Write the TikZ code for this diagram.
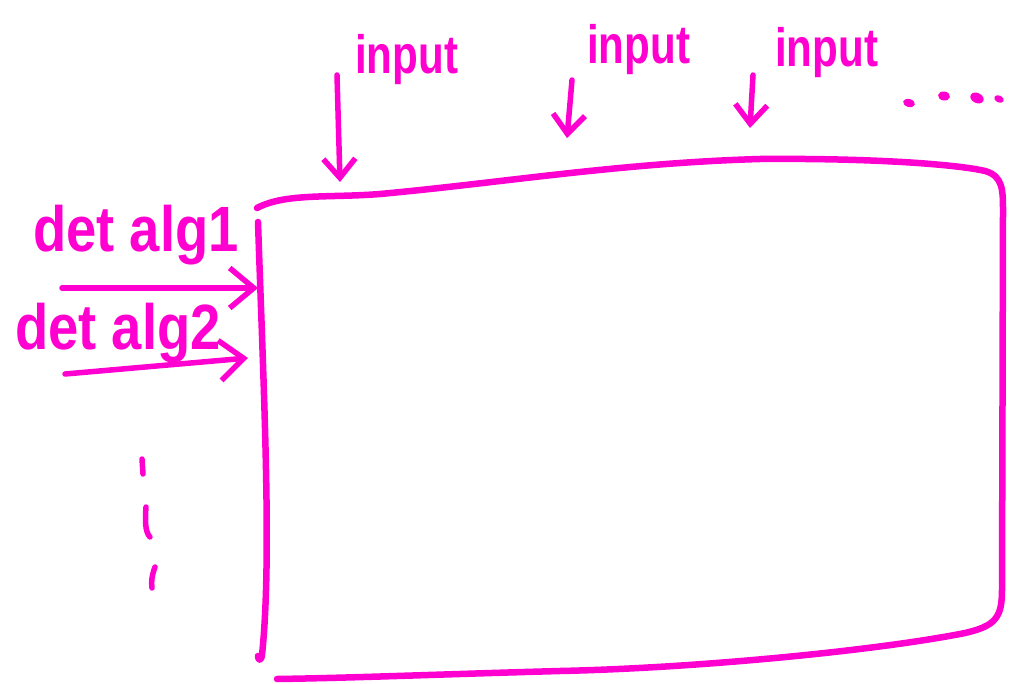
\documentclass[tikz,border=0pt]{standalone}
\usepackage{fontspec}
\setmainfont{Liberation Sans}
\usetikzlibrary{arrows.meta}
\definecolor{ink}{RGB}{255,0,208}
\begin{document}
\begin{tikzpicture}[x=1pt,y=-1pt,line cap=round,line join=round,
  pen/.style={draw=ink,line width=6.5pt},
  stroke/.style={draw=ink,line width=5.5pt},
  feed/.style={stroke,-{Straight Barb[length=24pt,width=40pt,line width=5.5pt]}},
  drop/.style={stroke,-{Straight Barb[length=19pt,width=32pt,line width=5.5pt]}},
  hand/.style={text=ink,inner sep=0pt,anchor=base west},
  biglabel/.style={hand,font=\fontsize{64}{70}\selectfont\bfseries,xscale=0.85},
  smalllabel/.style={hand,font=\fontsize{54}{60}\selectfont\bfseries,xscale=0.78},
  dot/.style={fill=ink,draw=none}]
\useasboundingbox (0,0) rectangle (1009,684);

% the box: top, right and bottom sides in one stroke, left side apart
\draw[pen] (257,208) .. controls (285,193) and (330,198) .. (380,194)
  .. controls (500,183) and (620,163) .. (760,159)
  .. controls (880,158) and (960,165) .. (985,171)
  .. controls (1003,176) and (1003,190) .. (1003,212)
  -- (1002,590) .. controls (1002,618) and (995,626) .. (965,633)
  .. controls (880,650) and (700,668) .. (560,671)
  .. controls (450,674) and (350,678) .. (277,679);
\draw[pen] (258,222) .. controls (264,400) and (272,560) .. (262,655)
  .. controls (261,662) and (258,660) .. (258,656);

% row labels and their arrows
\node[biglabel] (alg1) at (33,252) {det alg1};
\node[biglabel] (alg2) at (15,350) {det alg2};
\coordinate (a1s) at (62,288);
\coordinate (a1e) at (258,288);
\coordinate (a2s) at (65,374);
\coordinate (a2e) at (248,358);
\draw[feed] (a1s) -- (a1e);
\draw[feed] (a2s) -- (a2e);

% column labels and their arrows
\node[smalllabel] (in1) at (355,74) {input};
\node[smalllabel] (in2) at (587,64) {input};
\node[smalllabel] (in3) at (775,67) {input};
\coordinate (d1s) at (337,75);
\coordinate (d1e) at (340,182);
\coordinate (d2s) at (572,80);
\coordinate (d2e) at (567,138);
\coordinate (d3s) at (753,75);
\coordinate (d3e) at (750,128);
\draw[drop] (d1s) -- (d1e);
\draw[drop] (d2s) -- (d2e);
\draw[drop] (d3s) -- (d3e);

% trailing dots along the top
\fill[dot,rotate around={-15:(909,103)}] (909,103) ellipse (6pt and 4pt);
\fill[dot,rotate around={-10:(944,96)}] (944,96) ellipse (6pt and 4.5pt);
\fill[dot,rotate around={-25:(977,98)}] (977,98) ellipse (7pt and 5pt);
\fill[dot,rotate around={-25:(999,99)}] (999,99) ellipse (5pt and 3.5pt);

% trailing marks down the left side
\draw[stroke] (142,459) -- (143,474);
\draw[stroke] (146,507) .. controls (145,520) and (145,532) .. (150,537);
\draw[stroke] (155,567) .. controls (152,575) and (151,582) .. (152,588);
\end{tikzpicture}
\end{document}
